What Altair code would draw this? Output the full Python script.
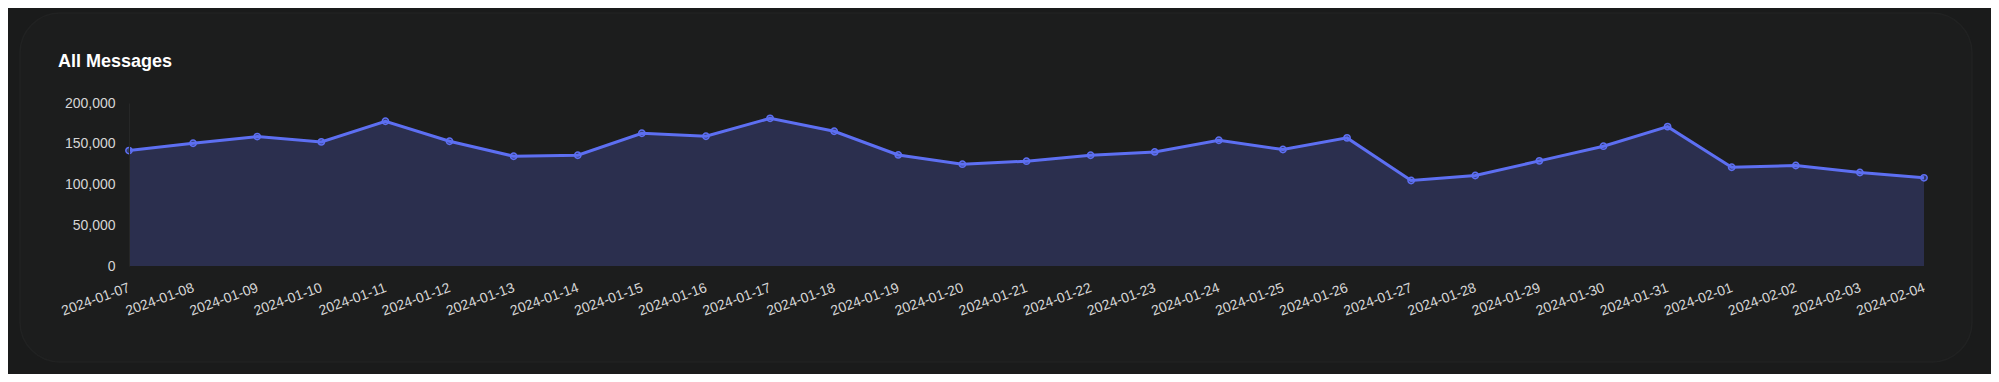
import altair as alt
import pandas as pd

dates = [
    "2024-01-07", "2024-01-08", "2024-01-09", "2024-01-10", "2024-01-11",
    "2024-01-12", "2024-01-13", "2024-01-14", "2024-01-15", "2024-01-16",
    "2024-01-17", "2024-01-18", "2024-01-19", "2024-01-20", "2024-01-21",
    "2024-01-22", "2024-01-23", "2024-01-24", "2024-01-25", "2024-01-26",
    "2024-01-27", "2024-01-28", "2024-01-29", "2024-01-30", "2024-01-31",
    "2024-02-01", "2024-02-02", "2024-02-03", "2024-02-04",
]
messages = [
    141600, 150600, 158800, 152300, 177600,
    153100, 134700, 135900, 162900, 159200,
    181200, 165300, 136300, 124900, 128600,
    135900, 140000, 154300, 142900, 157200,
    104900, 111000, 129000, 147000, 171000,
    121200, 123300, 114700, 108200,
]
y_ticks = [0, 50000, 100000, 150000, 200000]
title_text = ["All Messages"]

df = pd.DataFrame({"date": dates, "messages": messages})

LINE = "#5d6ff2"
FILL = "#2b2f4e"
BG = "#1a1b1b"
CARD = "#1c1d1d"
FONT = "Liberation Sans"

PLOT_W, PLOT_H = 1795, 163
PAD_L, PAD_T = 121, 95
TOTAL_W, TOTAL_H = 1983, 366

card = alt.Chart(pd.DataFrame({"k": [0]})).mark_rect(
    fill=CARD, stroke="#212222", strokeWidth=1.5, cornerRadius=40
).encode(
    x=alt.value(-109), x2=alt.value(1843),
    y=alt.value(-90), y2=alt.value(259),
)

title = alt.Chart(pd.DataFrame({"t": title_text})).mark_text(
    align="left", baseline="alphabetic", fontSize=18, fontWeight="bold",
    color="#ffffff", font=FONT,
).encode(x=alt.value(-71), y=alt.value(-36), text="t:N")

x_enc = alt.X(
    "date:O",
    sort=dates,
    scale=alt.Scale(type="point", padding=0),
    axis=alt.Axis(
        title=None, labelAngle=-20, labelAlign="right", labelBaseline="middle",
        ticks=False, tickSize=0, domain=False, grid=False, labelPadding=21,
        labelFont=FONT, labelFontSize=14, labelColor="#d6d6d6", zindex=1,
    ),
)
y_enc = alt.Y(
    "messages:Q",
    scale=alt.Scale(domain=[0, 200000], nice=False),
    axis=alt.Axis(
        title=None, values=y_ticks, format=",.0f", ticks=False, tickSize=0,
        grid=False, domain=True, domainColor="#262727", labelPadding=14,
        labelFont=FONT, labelFontSize=14, labelColor="#d6d6d6", zindex=1,
    ),
)

base = alt.Chart(df)
area = base.mark_area(color=FILL, opacity=1).encode(x=x_enc, y=y_enc)
line = base.mark_line(color=LINE, strokeWidth=3).encode(x=x_enc, y=y_enc)
pts = base.mark_point(
    shape="circle", filled=False, color=LINE, size=40, strokeWidth=1.5,
    fill=LINE, fillOpacity=0.35, opacity=1,
).encode(x=x_enc, y=y_enc)

chart = alt.layer(card, title, area, line, pts).properties(
    width=PLOT_W,
    height=PLOT_H,
    padding={"left": PAD_L, "top": PAD_T,
             "right": TOTAL_W - PAD_L - PLOT_W,
             "bottom": TOTAL_H - PAD_T - PLOT_H},
    autosize=alt.AutoSizeParams(type="none"),
    background=BG,
).configure_view(stroke=None)

chart.save("out.html", embed_options={"renderer": "svg", "actions": False})
